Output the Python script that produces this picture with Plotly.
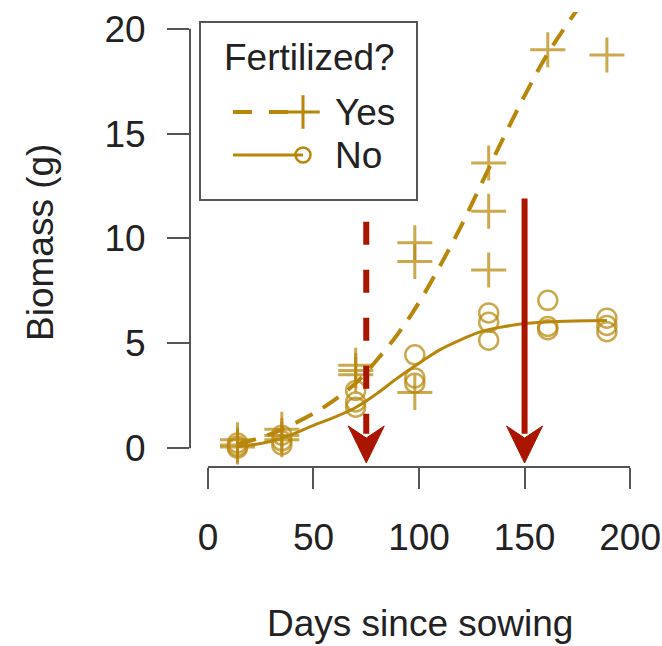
import plotly.graph_objects as go

# ---------------- data ----------------
sample_days = [14, 35, 70, 98, 133, 161, 189]
yes_biomass = [[0.4, 0.15, 0.05], [0.9, 0.6, 0.4], [3.95, 3.7, 3.5], [9.8, 8.9, 2.65],
               [13.6, 11.3, 8.5], [19.0], [18.75]]
no_biomass = [[0.25, 0.1, 0.0], [0.62, 0.35, 0.15], [2.75, 2.2, 1.95], [4.45, 3.35, 3.1],
              [6.45, 6.0, 5.15], [7.05, 5.8, 5.65], [6.2, 5.85, 5.55]]

curve_days = [14, 25, 35, 50, 60, 70, 80, 90, 100, 110, 120, 130, 140, 150, 160, 170, 180, 189]
yes_curve = [0.2, 0.5, 0.9, 1.65, 2.3, 3.1, 4.2, 5.45, 6.95, 8.7, 10.6, 12.7, 14.8, 16.8, 18.65, 20.2, 21.6, 22.8]
no_curve = [0.07, 0.22, 0.47, 1.08, 1.48, 1.94, 2.6, 3.36, 4.05, 4.7, 5.18, 5.58, 5.79, 5.94, 6.01, 6.05, 6.08, 6.09]

arrow_days = [75, 150]
arrow_tops = [10.8, 11.9]
arrow_dashes = ["23px,25px", "solid"]

x_ticks = [0, 50, 100, 150, 200]
y_ticks = [0, 5, 10, 15, 20]
legend_title = "Fertilized?"
legend_labels = ["Yes", "No"]

# ---------------- style ----------------
GOLD = "rgb(184,134,11)"
GOLD_PT = "rgba(184,134,11,0.72)"
RED = "#AA1500"
AXIS = "#555555"
TXT = "#222222"
FONT = "Liberation Sans, Arial, Helvetica, sans-serif"
FS = 37

W, H = 662, 646
ML, MR, MT, MB = 190, 15, 12, 179
PW, PH = W - ML - MR, H - MT - MB
XR = [-8.5, 208]
YR = [-0.9, 20.8]
px_x = PW / (XR[1] - XR[0])
px_y = PH / (YR[1] - YR[0])


def flat(days, groups):
    xs, ys = [], []
    for d, g in zip(days, groups):
        for v in g:
            xs.append(d)
            ys.append(v)
    return xs, ys


yx, yy = flat(sample_days, yes_biomass)
nx, ny = flat(sample_days, no_biomass)

fig = go.Figure()

fig.add_trace(go.Scatter(x=curve_days, y=yes_curve, mode="lines", line_shape="spline",
                         line=dict(color=GOLD, width=4, dash="19px,12px"), hoverinfo="skip"))
fig.add_trace(go.Scatter(x=curve_days, y=no_curve, mode="lines", line_shape="spline",
                         line=dict(color=GOLD, width=3), hoverinfo="skip"))
fig.add_trace(go.Scatter(x=yx, y=yy, mode="markers",
                         marker=dict(symbol="cross-thin", size=25, line=dict(color=GOLD_PT, width=3)),
                         cliponaxis=True))
fig.add_trace(go.Scatter(x=nx, y=ny, mode="markers",
                         marker=dict(symbol="circle-open", size=19, color=GOLD_PT, line=dict(color=GOLD_PT, width=2.5)),
                         cliponaxis=True))

shapes = []
# detached axis lines (R style)
shapes.append(dict(type="line", xref="paper", yref="y", x0=0, x1=0, y0=y_ticks[0], y1=y_ticks[-1],
                   line=dict(color=AXIS, width=2)))
shapes.append(dict(type="line", xref="x", yref="paper", x0=x_ticks[0], x1=x_ticks[-1], y0=0, y1=0,
                   line=dict(color=AXIS, width=2)))

# arrows
head_half = 18 / px_x
tip = YR[0] + 4 / px_y
head_top = tip + 37 / px_y
notch = tip + 25 / px_y
for xd, top, dsh in zip(arrow_days, arrow_tops, arrow_dashes):
    shapes.append(dict(type="line", xref="x", yref="y", x0=xd, x1=xd, y0=top, y1=notch + 0.2,
                       line=dict(color=RED, width=6, dash=dsh)))
    path = (f"M {xd - head_half},{head_top} L {xd},{notch} L {xd + head_half},{head_top} "
            f"L {xd},{tip} Z")
    shapes.append(dict(type="path", xref="x", yref="y", path=path, fillcolor=RED,
                       line=dict(color=RED, width=1)))

# legend (pixel-space overlay axes x2/y2)
shapes.append(dict(type="rect", xref="x2", yref="y2", x0=200, x1=417, y0=22, y1=200,
                   line=dict(color=AXIS, width=2), fillcolor="white", layer="below"))
fig.add_trace(go.Scatter(x=[233, 303], y=[112, 112], xaxis="x2", yaxis="y2", mode="lines",
                         line=dict(color=GOLD, width=4, dash="19px,17px"), hoverinfo="skip"))
fig.add_trace(go.Scatter(x=[233, 303], y=[155, 155], xaxis="x2", yaxis="y2", mode="lines",
                         line=dict(color=GOLD, width=3), hoverinfo="skip"))
fig.add_trace(go.Scatter(x=[303], y=[112], xaxis="x2", yaxis="y2", mode="markers",
                         marker=dict(symbol="cross-thin", size=24, line=dict(color=GOLD, width=3))))
fig.add_trace(go.Scatter(x=[303], y=[155], xaxis="x2", yaxis="y2", mode="markers",
                         marker=dict(symbol="circle-open", size=15, color=GOLD, line=dict(color=GOLD, width=2.5))))

annotations = [
    dict(text=legend_title, xref="x2", yref="y2", x=309, y=57, showarrow=False,
         xanchor="center", yanchor="middle", font=dict(family=FONT, size=FS, color=TXT)),
    dict(text=legend_labels[0], xref="x2", yref="y2", x=333, y=112, showarrow=False,
         xanchor="left", yanchor="middle", font=dict(family=FONT, size=FS, color=TXT)),
    dict(text=legend_labels[1], xref="x2", yref="y2", x=333, y=155, showarrow=False,
         xanchor="left", yanchor="middle", font=dict(family=FONT, size=FS, color=TXT)),
    dict(text="Biomass (g)", xref="paper", yref="paper", x=(40 - ML) / PW, y=(MT + PH - 243) / PH,
         showarrow=False, textangle=-90, xanchor="center", yanchor="middle",
         font=dict(family=FONT, size=FS, color=TXT)),
    dict(text="Days since sowing", xref="paper", yref="paper", x=(420 - ML) / PW, y=(MT + PH - 623) / PH,
         showarrow=False, xanchor="center", yanchor="middle",
         font=dict(family=FONT, size=FS, color=TXT)),
]

fig.update_layout(
    width=W, height=H, margin=dict(l=ML, r=MR, t=MT, b=MB, pad=0),
    plot_bgcolor="white", paper_bgcolor="white", showlegend=False,
    shapes=shapes, annotations=annotations,
    xaxis=dict(range=XR, tickvals=x_ticks, ticktext=[str(v) for v in x_ticks],
               ticks="outside", ticklen=21, tickwidth=2, tickcolor=AXIS, automargin=False,
               showgrid=False, zeroline=False, showline=False, ticklabelstandoff=17,
               tickfont=dict(family=FONT, size=FS, color=TXT), fixedrange=True),
    yaxis=dict(range=YR, tickvals=y_ticks, ticktext=[str(v) for v in y_ticks],
               ticks="outside", ticklen=22, tickwidth=2, tickcolor=AXIS, automargin=False,
               showgrid=False, zeroline=False, showline=False, ticklabelstandoff=14,
               tickfont=dict(family=FONT, size=FS, color=TXT), fixedrange=True),
    xaxis2=dict(range=[ML, ML + PW], overlaying="x", anchor="y2", visible=False, fixedrange=True),
    yaxis2=dict(range=[MT + PH, MT], overlaying="y", anchor="x2", visible=False, fixedrange=True),
)

fig.write_html("out.html")
